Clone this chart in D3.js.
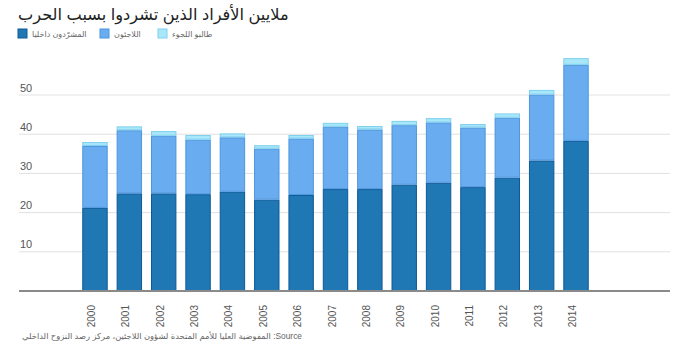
<!DOCTYPE html>
<html><head><meta charset="utf-8">
<script src="https://cdn.jsdelivr.net/npm/d3@7"></script>
<style>html,body{margin:0;padding:0;background:#fff;}svg{display:block;font-family:Arial,"Liberation Sans","DejaVu Sans",sans-serif;}</style>
</head><body><svg id="c" width="700" height="350"></svg>
<script>
const years = ["2000","2001","2002","2003","2004","2005","2006","2007","2008","2009","2010","2011","2012","2013","2014"];
const idps = [21.2,24.9,24.9,24.7,25.3,23.3,24.5,26.0,26.0,27.1,27.6,26.5,28.9,33.3,38.3];
const refugees = [15.8,16.1,14.7,13.9,13.9,13.0,14.4,15.9,15.2,15.2,15.4,15.2,15.3,16.8,19.4];
const asylum = [1.0,1.0,1.2,1.2,1.0,0.9,0.9,1.0,0.9,1.1,1.1,0.9,1.1,1.2,1.7];
const seriesNames = ["المشرّدون داخليا","اللاجئون","طالبو اللجوء"];
const yTicks = [10,20,30,40,50];
const title = "ملايين الأفراد الذين تشردوا بسبب الحرب";
const source = "Source: المفوضية العليا للأمم المتحدة لشؤون اللاجئين، مركز رصد النزوح الداخلي";

const fills = ["#1f77b4","#69adf0","#a9e7fb"];
const strokes = ["#0c5a98","#4d95de","#7fd0ec"];

const svg = d3.select("#c");
const rows = years.map((y,i)=>({year:y, a:idps[i], b:refugees[i], c:asylum[i]}));
const stack = d3.stack().keys(["a","b","c"])(rows);

const x = d3.scaleBand().domain(years).range([77.8,593.2]).paddingInner(0.26).paddingOuter(0.13);
const y = d3.scaleLinear().domain([0,50]).range([291,95]);

// gridlines
svg.append("g").selectAll("line").data(yTicks).join("line")
  .attr("x1",19).attr("x2",670).attr("y1",d=>y(d)).attr("y2",d=>y(d))
  .attr("stroke",d=>d===50?"#ececec":"#e0e0e0").attr("stroke-width",d=>d===50?1.5:1);
svg.append("g").selectAll("text").data(yTicks).join("text")
  .attr("x",20).attr("y",d=>y(d)-3.5).attr("font-size",11).attr("fill","#555").text(d=>d);

// bars
svg.append("g").selectAll("g").data(stack).join("g")
  .attr("fill",(d,i)=>fills[i]).attr("stroke",(d,i)=>strokes[i])
  .selectAll("rect").data(d=>d).join("rect")
  .attr("x",d=>x(d.data.year)+0.5).attr("width",x.bandwidth()-1)
  .attr("y",d=>y(d[1])+0.5).attr("height",d=>y(d[0])-y(d[1])-1)
  .attr("stroke-width",1);

// baseline
svg.append("line").attr("x1",19).attr("x2",670).attr("y1",291).attr("y2",291)
  .attr("stroke","#8a8a8a").attr("stroke-width",2);

// x labels
svg.append("g").selectAll("text").data(years).join("text")
  .attr("transform",d=>`translate(${x(d)+x.bandwidth()/2},305) rotate(-90)`)
  .attr("text-anchor","end").attr("font-size",10).attr("fill","#555").text(d=>d);

// title
svg.append("text").attr("x",18).attr("y",20).attr("font-size",16.2).attr("fill","#222").text(title);

// legend
const legX = [18,100,158];
const lg = svg.append("g").selectAll("g").data(seriesNames).join("g")
  .attr("transform",(d,i)=>`translate(${legX[i]},29)`);
lg.append("rect").attr("width",9).attr("height",9).attr("fill",(d,i)=>fills[i]).attr("stroke",(d,i)=>strokes[i]).attr("stroke-width",1);
lg.append("text").attr("x",14).attr("y",8).attr("font-size",8).attr("fill","#666").text(d=>d);

// source
svg.append("text").attr("x",302).attr("y",339).attr("font-size",8.2).attr("fill","#666")
  .attr("direction","rtl").attr("text-anchor","start")
  .attr("textLength",280).attr("lengthAdjust","spacingAndGlyphs").text(source);
</script></body></html>
